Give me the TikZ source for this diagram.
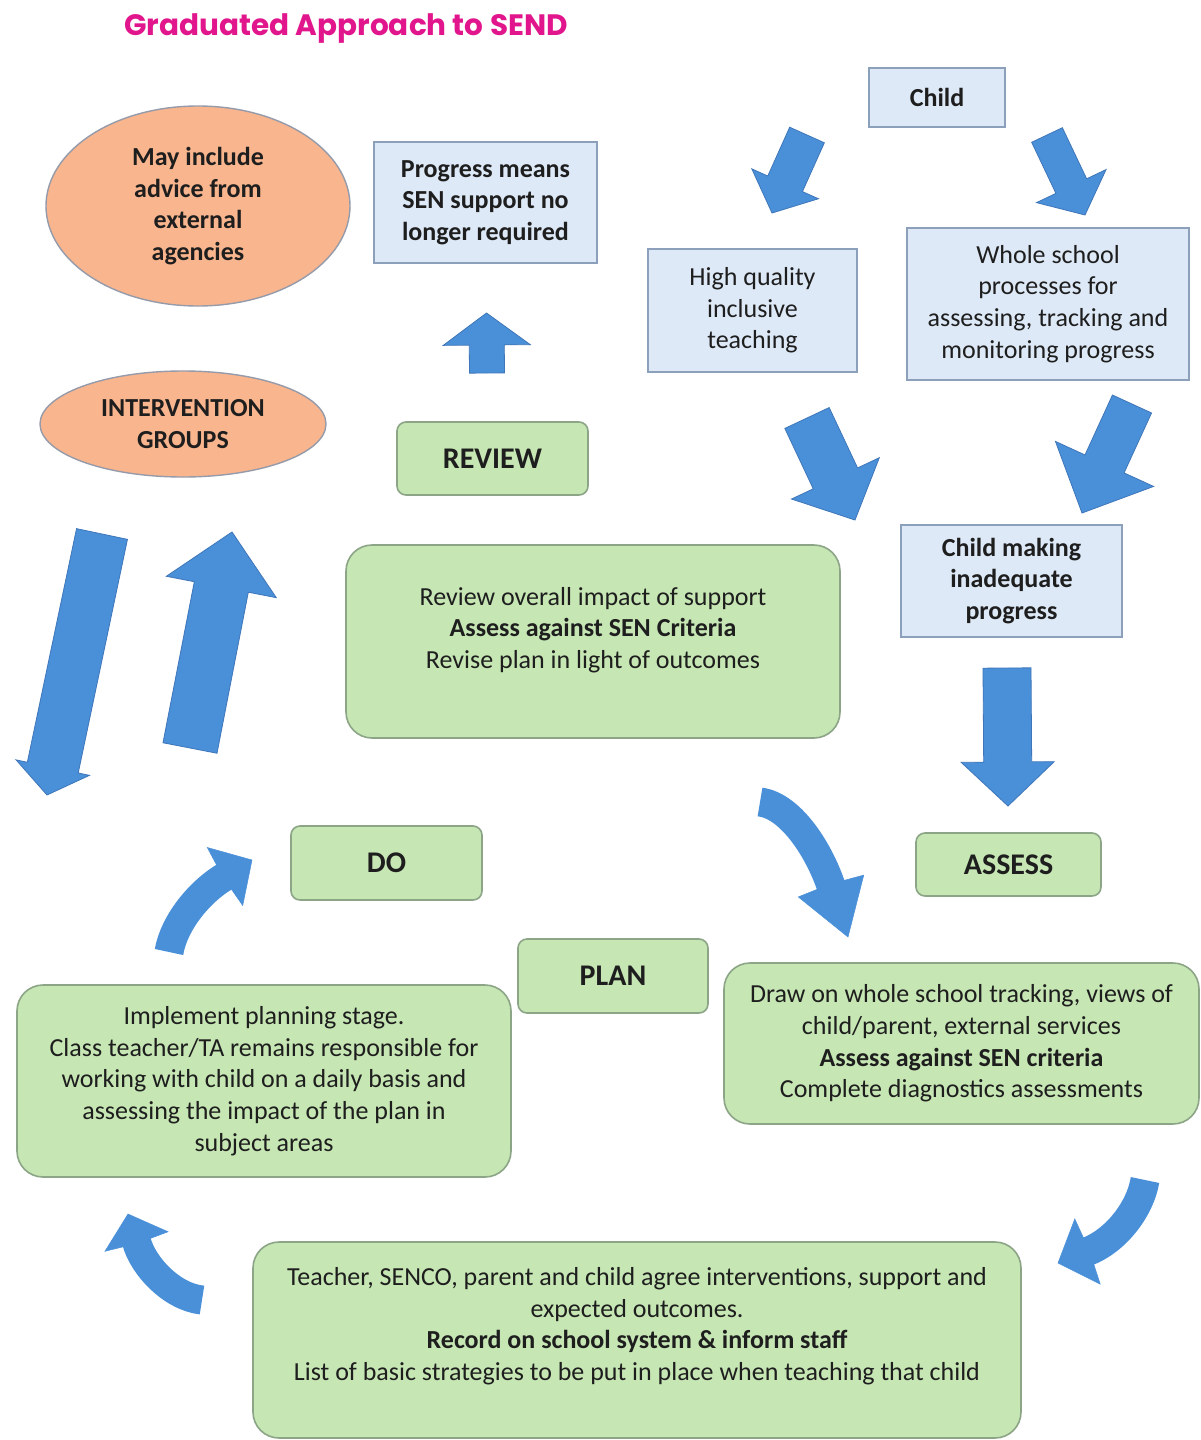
\documentclass[tikz,border=0pt]{standalone}
\usepackage{fontspec}
\setmainfont{Carlito}
\newfontfamily\titlefont{Poppins}
\usetikzlibrary{shapes.geometric,calc}
\definecolor{bluefill}{RGB}{221,233,246}
\definecolor{bluebd}{RGB}{140,160,188}
\definecolor{greenfill}{RGB}{198,230,180}
\definecolor{greenbd}{RGB}{140,165,135}
\definecolor{peach}{RGB}{248,181,142}
\definecolor{peachbd}{RGB}{150,155,170}
\definecolor{arrowfill}{RGB}{74,144,217}
\definecolor{arrowbd}{RGB}{62,118,185}
\definecolor{titlecol}{RGB}{226,22,140}
\definecolor{txtcol}{RGB}{30,30,30}
\newcommand\bodyfont{\fontsize{26}{31.6}\selectfont}
\newcommand\labfont{\fontsize{30}{34}\selectfont\bfseries}
\tikzset{
  bluebox/.style={draw=bluebd, fill=bluefill, line width=1.6pt, inner sep=0pt, align=center, font=\bodyfont, text=txtcol},
  greenbox/.style={draw=greenbd, fill=greenfill, line width=1.6pt, inner sep=0pt, align=center, font=\bodyfont, text=txtcol, rounded corners=26pt},
  labbox/.style={greenbox, rounded corners=9pt, font=\labfont},
  peachell/.style={ellipse, draw=peachbd, fill=peach, line width=1.4pt, inner sep=0pt, align=center, font=\bodyfont\bfseries, text=txtcol},
  txt/.style={align=center, font=\bodyfont, text=txtcol, inner sep=0pt},
  arrowshape/.style={fill=arrowfill, draw=arrowbd, line width=0.8pt, line join=miter},
  curveshaft/.style={draw=arrowfill, line width=29pt},
  curvehead/.style={fill=arrowfill, draw=arrowfill, line width=0.5pt}
}
% straight block arrow: name, start, tip, half shaft, half head, head length
\newcommand\barrow[6]{%
  \coordinate (#1-s) at #2;
  \coordinate (#1-t) at #3;
  \coordinate (#1-h) at ($(#1-t)!#6pt!(#1-s)$);
  \draw[arrowshape] ($(#1-s)!#4pt!90:(#1-t)$) -- ($(#1-h)!#4pt!90:(#1-t)$)
    -- ($(#1-h)!#5pt!90:(#1-t)$) -- (#1-t) -- ($(#1-h)!#5pt!-90:(#1-t)$)
    -- ($(#1-h)!#4pt!-90:(#1-t)$) -- ($(#1-s)!#4pt!-90:(#1-t)$) -- cycle;
}
% curved block arrow: name, start, c1, c2, head base, tip, half head
\newcommand\carrow[7]{%
  \coordinate (#1-s) at #2;
  \coordinate (#1-h) at #5;
  \coordinate (#1-t) at #6;
  \draw[curveshaft] (#1-s) .. controls #3 and #4 .. (#1-h);
  \fill[curvehead] ($(#1-h)!#7pt!90:(#1-t)$) -- (#1-t) -- ($(#1-h)!#7pt!-90:(#1-t)$) -- ($(#1-h)!2pt!180:(#1-t)$) -- cycle;
}
\begin{document}
\begin{tikzpicture}[x=1pt,y=-1pt]
\useasboundingbox (0,0) rectangle (1200,1440);
\fill[white] (0,0) rectangle (1200,1440);

% title
\node[font=\titlefont\fontsize{29.5}{32}\selectfont\bfseries, text=titlecol, inner sep=0pt] (title) at (346,29) {Graduated Approach to SEND};

% ellipses
\node[peachell, minimum width=304pt, minimum height=200pt] (ell1) at (198,206) {May include\\advice from\\external\\agencies};
\node[peachell, minimum width=286pt, minimum height=106pt] (ell2) at (183,424) {INTERVENTION\\GROUPS};

% blue boxes
\node[bluebox, font=\bodyfont\bfseries, minimum width=136pt, minimum height=59pt] (child) at (937,97.5) {Child};
\node[bluebox, font=\bodyfont\bfseries, minimum width=223pt, minimum height=121pt] (prog) at (485.5,202.5) {Progress means\\SEN support no\\longer required};
\node[bluebox, minimum width=209pt, minimum height=123pt] (hq) at (752.5,310.5) {High quality\\inclusive\\teaching};
\node[bluebox, minimum width=282pt, minimum height=152pt] (whole) at (1048,304) {Whole school\\processes for\\assessing, tracking and\\monitoring progress};
\node[bluebox, font=\bodyfont\bfseries, minimum width=221pt, minimum height=112pt] (cmip) at (1011.5,581) {Child making\\inadequate\\progress};

% green label boxes
\node[labbox, minimum width=191pt, minimum height=73pt] (review) at (492.5,458.5) {REVIEW};
\node[labbox, minimum width=185pt, minimum height=63pt] (assess) at (1008.5,864.5) {ASSESS};
\node[labbox, minimum width=191pt, minimum height=74pt] (do) at (386.5,863) {DO};
\node[labbox, minimum width=190pt, minimum height=74pt] (plan) at (613,976) {PLAN};

% green text boxes
\node[greenbox, minimum width=494pt, minimum height=193pt] (revbig) at (593,641.5) {};
\node[txt] (revtxt) at (593,630) {Review overall impact of support\\\textbf{Assess against SEN Criteria}\\Revise plan in light of outcomes};
\node[greenbox, minimum width=475pt, minimum height=161pt] (drawon) at (961.5,1043.5) {Draw on whole school tracking, views of\\child/parent, external services\\\textbf{Assess against SEN criteria}\\Complete diagnostics assessments};
\node[greenbox, minimum width=494pt, minimum height=192pt] (impl) at (264,1081) {Implement planning stage.\\Class teacher/TA remains responsible for\\working with child on a daily basis and\\assessing the impact of the plan in\\subject areas};
\node[greenbox, minimum width=768pt, minimum height=196pt] (teach) at (637,1340) {};
\node[txt] (teachtxt) at (637,1326) {Teacher, SENCO, parent and child agree interventions, support and\\expected outcomes.\\\textbf{Record on school system \& inform staff}\\List of basic strategies to be put in place when teaching that child};

% straight block arrows
\barrow{a1}{(807,135)}{(772,213)}{19}{36.5}{32}
\barrow{a2}{(1047,135)}{(1085,215)}{17}{38.5}{32}
\barrow{a3}{(807,418)}{(855,520)}{24.5}{48.5}{46}
\barrow{a4}{(1132,404)}{(1082,513)}{21.5}{54}{54}
\barrow{a5}{(1007,668)}{(1008,806)}{24}{46.5}{44}
\barrow{a6}{(487,373)}{(486.5,313)}{17.5}{43.5}{32}
\barrow{a7}{(102,534)}{(47,795)}{26}{37.5}{28}
\barrow{a8}{(190,748)}{(232,532)}{27.5}{56}{56}

% curved block arrows
\carrow{c1}{(760,802)}{(792,806)}{(820,853)}{(831,886)}{(848,937)}{34.5}
\carrow{c2}{(169,952)}{(174,923)}{(199,892)}{(225,876.5)}{(252,860)}{34}
\carrow{c3}{(1145,1180)}{(1140,1210)}{(1115,1241)}{(1087.5,1251.5)}{(1058,1263)}{35}
\carrow{c4}{(202,1300)}{(172,1297)}{(143,1266)}{(136.5,1241.5)}{(128,1214)}{33}
\end{tikzpicture}
\end{document}
